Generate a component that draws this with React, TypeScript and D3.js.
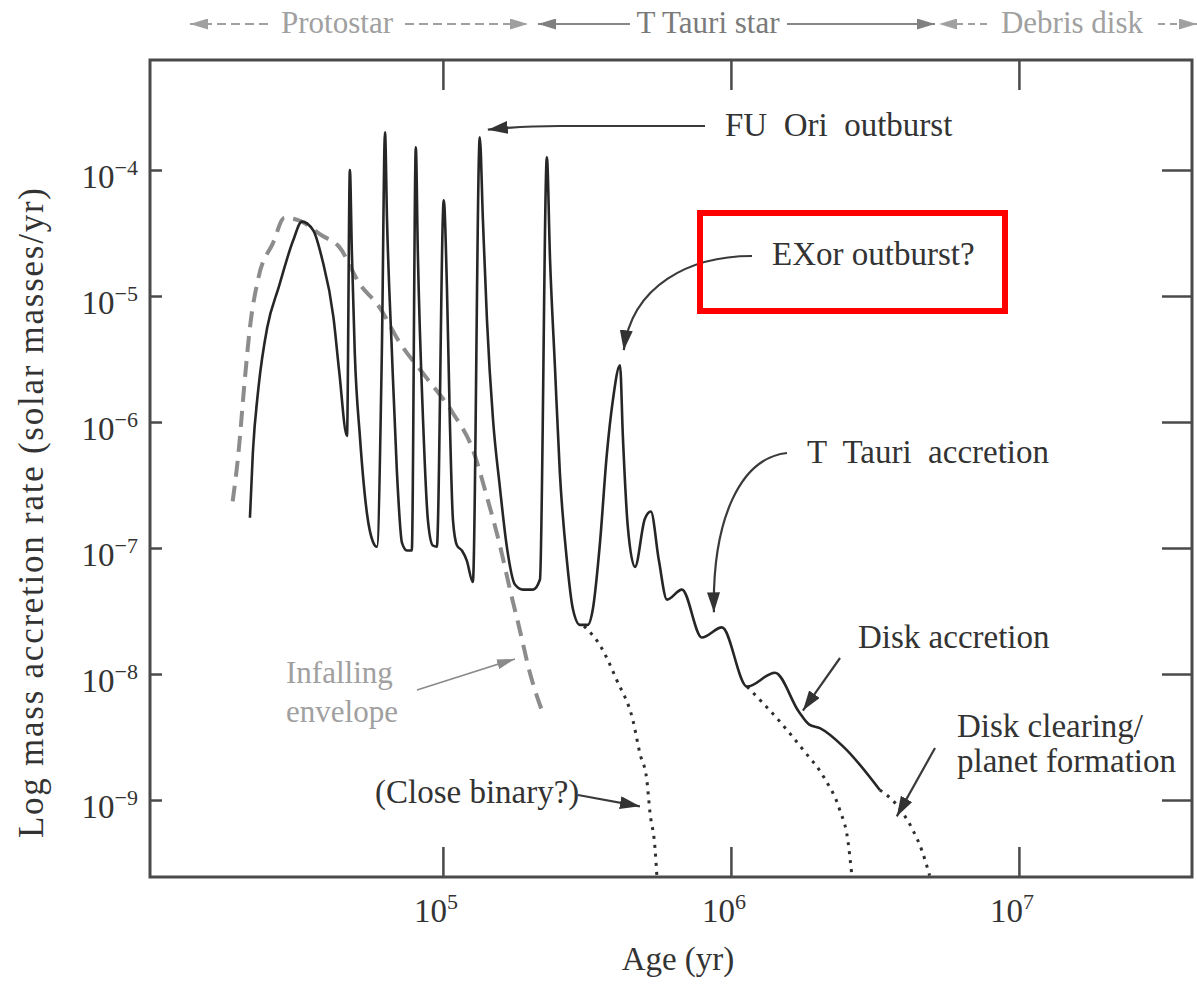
import React, { useEffect, useRef } from 'react';
import * as d3 from 'd3';

// values as [log10(age / yr), log10(rate / Msun yr^-1)]
const accretion: [number, number][] = [
  [4.33, -6.76], [4.34, -6.25], [4.36, -5.72], [4.39, -5.25], [4.43, -4.93],
  [4.48, -4.56], [4.51, -4.41], [4.55, -4.48], [4.58, -4.7], [4.62, -5.17],
  [4.64, -5.6], [4.667, -6.11], [4.677, -4.0], [4.684, -4.66], [4.694, -5.45],
  [4.712, -6.12], [4.736, -6.72], [4.757, -6.95], [4.771, -6.99], [4.788, -5.45],
  [4.799, -3.7], [4.806, -4.4], [4.823, -5.45], [4.84, -6.38], [4.858, -6.96],
  [4.875, -7.02], [4.892, -7.02], [4.906, -3.82], [4.913, -4.66], [4.931, -5.98],
  [4.948, -6.78], [4.965, -6.98], [4.979, -6.99], [5.003, -4.24], [5.014, -4.93],
  [5.024, -5.98], [5.035, -6.78], [5.049, -6.98], [5.066, -7.02], [5.083, -7.1],
  [5.104, -7.27], [5.128, -3.74], [5.139, -4.4], [5.153, -5.19], [5.174, -5.98],
  [5.198, -6.52], [5.222, -6.99], [5.25, -7.29], [5.278, -7.33], [5.313, -7.33],
  [5.337, -7.25], [5.361, -3.9], [5.372, -4.71], [5.389, -5.56], [5.406, -6.4],
  [5.431, -7.11], [5.451, -7.48], [5.476, -7.61], [5.503, -7.61], [5.521, -7.48],
  [5.545, -6.97], [5.569, -6.26], [5.59, -5.83], [5.615, -5.55], [5.625, -6.12],
  [5.642, -6.83], [5.667, -7.15], [5.701, -6.77], [5.722, -6.71], [5.75, -7.1],
  [5.778, -7.41], [5.83, -7.33], [5.899, -7.71], [5.969, -7.63], [6.056, -8.1],
  [6.153, -7.99], [6.236, -8.3], [6.271, -8.4], [6.309, -8.43], [6.392, -8.58],
  [6.517, -8.92],
];

const envelope: [number, number][] = [
  [4.27, -6.63], [4.29, -6.25], [4.31, -5.72], [4.33, -5.25], [4.36, -4.85],
  [4.41, -4.58], [4.45, -4.38], [4.5, -4.4], [4.58, -4.52], [4.64, -4.61],
  [4.71, -4.9], [4.78, -5.09], [4.85, -5.37], [4.94, -5.64], [5.035, -5.93],
  [5.104, -6.22], [5.156, -6.62], [5.198, -6.98], [5.233, -7.33], [5.267, -7.65],
  [5.302, -7.99], [5.347, -8.31],
];

const closeBinaryTail: [number, number][] = [
  [5.49, -7.62], [5.545, -7.77], [5.604, -8.05], [5.66, -8.37], [5.684, -8.63],
  [5.708, -8.84], [5.719, -9.1], [5.736, -9.37], [5.743, -9.6],
];

const diskTail: [number, number][] = [
  [6.056, -8.1], [6.167, -8.37], [6.25, -8.6], [6.323, -8.82], [6.378, -9.08],
  [6.406, -9.32], [6.42, -9.6],
];

const clearingTail: [number, number][] = [
  [6.517, -8.92], [6.576, -9.04], [6.632, -9.24], [6.663, -9.4], [6.69, -9.6],
];

const xTicks = [1e5, 1e6, 1e7];
const yTicks = [1e-4, 1e-5, 1e-6, 1e-7, 1e-8, 1e-9];
const phases = ['Protostar', 'T Tauri star', 'Debris disk'];

const W = 1197, H = 989;
const margin = { top: 60, right: 5, bottom: 112, left: 150 };
const serif = '"Liberation Serif", "Times New Roman", serif';

export default function App() {
  const ref = useRef<SVGSVGElement>(null);

  useEffect(() => {
    const svg = d3.select(ref.current);
    svg.selectAll('*').remove();

    const x = d3.scaleLog().domain([10 ** 3.983, 10 ** 7.601]).range([margin.left, W - margin.right]);
    const y = d3.scaleLog().domain([10 ** -9.611, 10 ** -3.127]).range([H - margin.bottom, margin.top]);
    const px = (d: [number, number]) => x(10 ** d[0]);
    const py = (d: [number, number]) => y(10 ** d[1]);

    const defs = svg.append('defs');
    const marker = (id: string, color: string, len: number, wid: number) => {
      defs.append('marker')
        .attr('id', id)
        .attr('viewBox', `0 ${-wid / 2} ${len} ${wid}`)
        .attr('refX', len).attr('refY', 0)
        .attr('markerWidth', len).attr('markerHeight', wid)
        .attr('markerUnits', 'userSpaceOnUse')
        .attr('orient', 'auto')
        .append('path')
        .attr('d', `M0,${-wid / 2}L${len},0L0,${wid / 2}Z`)
        .attr('fill', color);
    };
    marker('ah', '#333', 20, 13);
    marker('ahGray', '#8a8a8a', 18, 10);
    marker('ahTop', '#a0a0a0', 18, 11);
    marker('ahTopDark', '#808080', 18, 11);

    const line = d3.line<[number, number]>().x(px).y(py).curve(d3.curveMonotoneX);
    const plot = svg.append('g');

    // infalling envelope
    plot.append('path').attr('d', line(envelope))
      .attr('fill', 'none').attr('stroke', '#8c8c8c').attr('stroke-width', 4)
      .attr('stroke-dasharray', '16 9');

    // dotted tails
    [closeBinaryTail, diskTail, clearingTail].forEach(t => {
      plot.append('path').attr('d', line(t))
        .attr('fill', 'none').attr('stroke', '#2e2e2e').attr('stroke-width', 3)
        .attr('stroke-dasharray', '3 6');
    });

    // accretion history
    plot.append('path').attr('d', line(accretion))
      .attr('fill', 'none').attr('stroke', '#262626').attr('stroke-width', 2.6)
      .attr('stroke-linejoin', 'round');

    // axes: inward ticks, labels drawn separately
    const axisColor = '#4a4a4a';
    const noLabel = () => '';
    const bottom = H - margin.bottom, right = W - margin.right;
    svg.append('g').attr('transform', `translate(0,${bottom})`)
      .call(d3.axisBottom(x).tickValues(xTicks).tickSize(-30).tickFormat(noLabel));
    svg.append('g').attr('transform', `translate(0,${margin.top})`)
      .call(d3.axisTop(x).tickValues(xTicks).tickSize(-30).tickFormat(noLabel));
    svg.append('g').attr('transform', `translate(${margin.left},0)`)
      .call(d3.axisLeft(y).tickValues(yTicks).tickSize(-12).tickFormat(noLabel));
    svg.append('g').attr('transform', `translate(${right},0)`)
      .call(d3.axisRight(y).tickValues(yTicks).tickSize(-30).tickFormat(noLabel));
    svg.selectAll('.domain').remove();
    svg.selectAll('.tick line').attr('stroke', axisColor).attr('stroke-width', 2.5);

    svg.append('rect')
      .attr('x', margin.left).attr('y', margin.top)
      .attr('width', right - margin.left).attr('height', bottom - margin.top)
      .attr('fill', 'none').attr('stroke', axisColor).attr('stroke-width', 3);

    const txt = svg.append('g').attr('font-family', serif).attr('fill', '#333');

    xTicks.forEach(v => {
      const t = txt.append('text').attr('x', x(v) - 7).attr('y', 922)
        .attr('text-anchor', 'middle').attr('font-size', 33);
      t.append('tspan').text('10');
      t.append('tspan').attr('dy', -13).attr('font-size', 22).text(String(Math.round(Math.log10(v))));
    });
    yTicks.forEach(v => {
      const t = txt.append('text').attr('x', 138).attr('y', y(v) + 18)
        .attr('text-anchor', 'end').attr('font-size', 33);
      t.append('tspan').text('10');
      t.append('tspan').attr('dy', -13).attr('font-size', 22)
        .text('\u2212' + Math.abs(Math.round(Math.log10(v))));
    });

    txt.append('text').attr('x', 678).attr('y', 970)
      .attr('text-anchor', 'middle').attr('font-size', 33).text('Age (yr)');
    txt.append('text')
      .attr('transform', 'translate(43,838) rotate(-90)')
      .attr('text-anchor', 'start').attr('font-size', 35)
      .attr('textLength', 650).attr('lengthAdjust', 'spacing')
      .text('Log mass accretion rate (solar masses/yr)');

    // phase bar on top
    const top = svg.append('g');
    const topArrow = (x1: number, x2: number, dash?: string, dark?: boolean) => {
      top.append('line').attr('x1', x1).attr('x2', x2).attr('y1', 24).attr('y2', 24)
        .attr('stroke', dark ? '#888' : '#a0a0a0').attr('stroke-width', 2)
        .attr('stroke-dasharray', dash || null)
        .attr('marker-end', dark ? 'url(#ahTopDark)' : 'url(#ahTop)');
    };
    topArrow(268, 190, '9 5');
    topArrow(405, 528, '9 5');
    topArrow(630, 538, undefined, true);
    topArrow(787, 935, undefined, true);
    topArrow(987, 939, '7 5');
    topArrow(1158, 1197, '7 5');
    const phaseX = [337, 708, 1072];
    const phaseColor = ['#a0a0a0', '#7a7a7a', '#a0a0a0'];
    phases.forEach((p, i) => {
      top.append('text').attr('x', phaseX[i]).attr('y', 33)
        .attr('text-anchor', 'middle').attr('font-family', serif)
        .attr('font-size', 31).attr('fill', phaseColor[i]).text(p);
    });

    // annotations
    const note = (s: string, tx: number, ty: number, color = '#333', size = 33) =>
      txt.append('text').attr('x', tx).attr('y', ty).attr('fill', color)
        .attr('font-size', size).style('white-space', 'pre').text(s);
    const arrow = (d: string, gray = false) =>
      svg.append('path').attr('d', d).attr('fill', 'none')
        .attr('stroke', gray ? '#8a8a8a' : '#3a3a3a').attr('stroke-width', gray ? 1.6 : 2.2)
        .attr('marker-end', gray ? 'url(#ahGray)' : 'url(#ah)');
    const tip = (lx: number, ly: number) => `${x(10 ** lx)},${y(10 ** ly)}`;

    note('FU  Ori  outburst', 725, 136);
    arrow(`M705,126 L560,126 Q520,126 ${tip(5.156, -3.68)}`);

    note('EXor outburst?', 772, 265);
    arrow(`M752,256 C690,256 632,285 ${tip(5.628, -5.43)}`);

    note('T  Tauri  accretion', 807, 463);
    arrow(`M787,453 C740,458 712,520 ${tip(5.941, -7.51)}`);

    note('Disk accretion', 858, 648);
    arrow(`M840,658 L${tip(6.25, -8.29)}`);

    note('Disk clearing/', 957, 737);
    note('planet formation', 957, 772);
    arrow(`M935,748 L${tip(6.576, -9.13)}`);

    note('(Close binary?)', 375, 803);
    arrow(`M578,795 L${tip(5.684, -9.05)}`);

    note('Infalling', 286, 683, '#a0a0a0', 31);
    note('envelope', 286, 722, '#a0a0a0', 31);
    arrow(`M417,690 L${tip(5.25, -7.88)}`, true);

    // highlight box
    svg.append('rect').attr('x', 700).attr('y', 213).attr('width', 305).attr('height', 98)
      .attr('fill', 'none').attr('stroke', '#ff0000').attr('stroke-width', 6);
  }, []);

  return (
    <svg ref={ref} width={W} height={H}
      style={{ position: 'absolute', left: 0, top: 0, background: '#fff' }} />
  );
}
